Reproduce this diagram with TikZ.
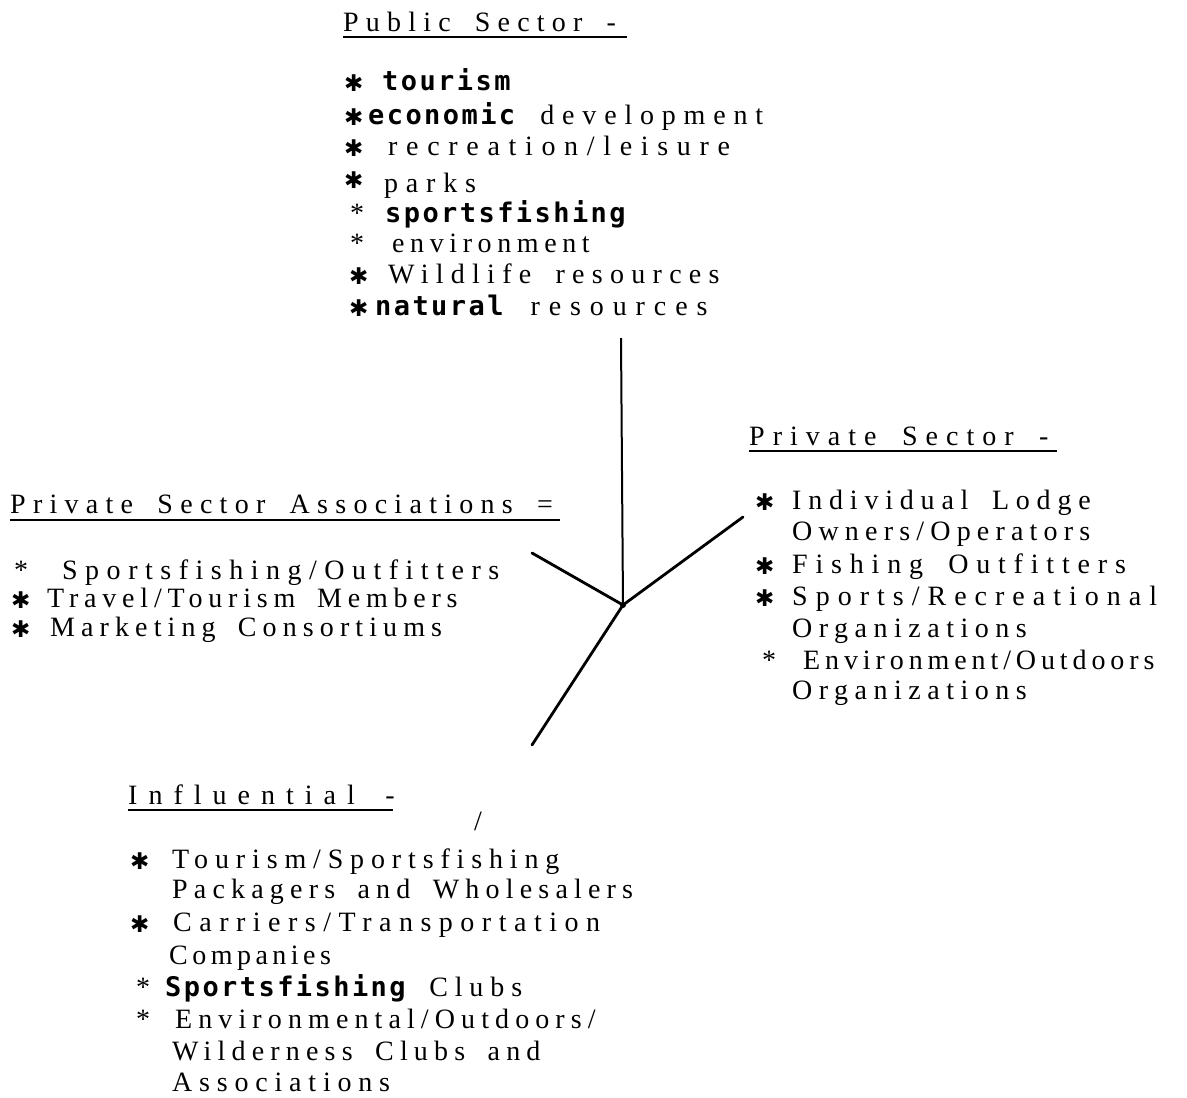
\documentclass[tikz,border=0pt]{standalone}
\usepackage{fontspec}
\setmainfont{Liberation Serif}[WordSpace=1.7]
\newfontfamily\bmfont{DejaVu Sans Mono}[LetterSpace=9]
\newfontfamily\hsfont{DejaVu Sans}
\newcommand\bm[1]{{\bmfont\bfseries\fontsize{27}{30}\selectfont #1}}
\newcommand\hstar{{\hsfont\fontsize{23}{23}\selectfont\raisebox{-1pt}{✱}}}
\newcommand\tstar{*}
\tikzset{
  txt/.style={anchor=base west, inner sep=0pt, font=\fontsize{28}{32}\selectfont\addfontfeatures{LetterSpace=#1}},
  txt/.default=25,
  uline/.style={line width=2.8pt},
  vspoke/.style={line width=2pt},
  spoke/.style={line width=2.8pt, line cap=round},
}
\begin{document}
\begin{tikzpicture}[x=1pt,y=-1pt]
\useasboundingbox[fill=white] (0,0) rectangle (1187,1098);
% ---------- Public Sector ----------
\node[txt=25.7] (pubt) at (343,31) {Public Sector -};
\draw[uline] ([yshift=-6pt]pubt.base west) -- ++(284,0);
\node[txt] (p1s) at (344,90) {\hstar};
\node[txt] (p1) at (382,90) {\bm{tourism}};
\node[txt] (p2s) at (344,124) {\hstar};
\node[txt=27.9] (p2) at (368,124) {\bm{economic} development};
\node[txt] (p3s) at (344,155) {\hstar};
\node[txt=31] (p3) at (388,155) {recreation/leisure};
\node[txt] (p4s) at (344,187) {\hstar};
\node[txt=27.9] (p4) at (384,192) {parks};
\node[txt] (p5s) at (350,222) {\tstar};
\node[txt] (p5) at (385,222) {\bm{sportsfishing}};
\node[txt] (p6s) at (350,252) {\tstar};
\node[txt=20] (p6) at (392,252) {environment};
\node[txt] (p7s) at (349,283) {\hstar};
\node[txt=26] (p7) at (388,283) {Wildlife resources};
\node[txt] (p8s) at (349,315) {\hstar};
\node[txt=31.8] (p8) at (375,315) {\bm{natural} resources};
% ---------- Private Sector Associations ----------
\node[txt=26] (asst) at (10,513) {Private Sector Associations =};
\draw[uline] ([yshift=-7pt]asst.base west) -- ++(550,0);
\node[txt] (a1s) at (14,579) {\tstar};
\node[txt=26.8] (a1) at (62,579) {Sportsfishing/Outfitters};
\node[txt] (a2s) at (11,607) {\hstar};
\node[txt=20.7] (a2) at (47,607) {Travel/Tourism Members};
\node[txt] (a3s) at (11,636) {\hstar};
\node[txt=21.8] (a3) at (50,636) {Marketing Consortiums};
% ---------- Private Sector ----------
\node[txt=28.6] (prvt) at (749,445) {Private Sector -};
\draw[uline] ([yshift=-6pt]prvt.base west) -- ++(308,0);
\node[txt] (r1s) at (755,509) {\hstar};
\node[txt=24.3] (r1) at (792,509) {Individual Lodge};
\node[txt=22.1] (r1b) at (792,540) {Owners/Operators};
\node[txt] (r2s) at (755,573) {\hstar};
\node[txt=27.9] (r2) at (792,573) {Fishing Outfitters};
\node[txt] (r3s) at (755,605) {\hstar};
\node[txt=28.6] (r3) at (792,605) {Sports/Recreational};
\node[txt=23.2] (r3b) at (792,637) {Organizations};
\node[txt] (r4s) at (762,669) {\tstar};
\node[txt=17.5] (r4) at (803,669) {Environment/Outdoors};
\node[txt=23.2] (r4b) at (792,699) {Organizations};
% ---------- Influential ----------
\node[txt=39.3] (inft) at (128,804) {Influential -};
\draw[uline] ([yshift=-6pt]inft.base west) -- ++(265,0);
\node[txt] (slash) at (474,830) {/};
\node[txt] (i1s) at (130,868) {\hstar};
\node[txt=24.5] (i1) at (172,868) {Tourism/Sportsfishing};
\node[txt=22.1] (i1b) at (172,898) {Packagers and Wholesalers};
\node[txt] (i2s) at (130,931) {\hstar};
\node[txt=26.8] (i2) at (173,931) {Carriers/Transportation};
\node[txt=16] (i2b) at (169,964) {Companies};
\node[txt] (i3s) at (136,996) {\tstar};
\node[txt=24.6] (i3) at (165,996) {\bm{Sportsfishing} Clubs};
\node[txt] (i4s) at (136,1028) {\tstar};
\node[txt=21.8] (i4) at (175,1028) {Environmental/Outdoors/};
\node[txt=22.1] (i4b) at (172,1060) {Wilderness Clubs and};
\node[txt=24.3] (i4c) at (172,1091) {Associations};
% ---------- spokes ----------
\coordinate (J) at (623,605);
\coordinate (top) at (621,338);
\coordinate (lft) at (532,553);
\coordinate (rgt) at (743,517);
\coordinate (bot) at (532,745);
\draw[vspoke] (top) -- (J);
\draw[spoke] (lft) -- (J);
\draw[spoke] (rgt) -- (J);
\draw[spoke] (J) -- (bot);
\fill (J) circle (3);
\end{tikzpicture}
\end{document}
